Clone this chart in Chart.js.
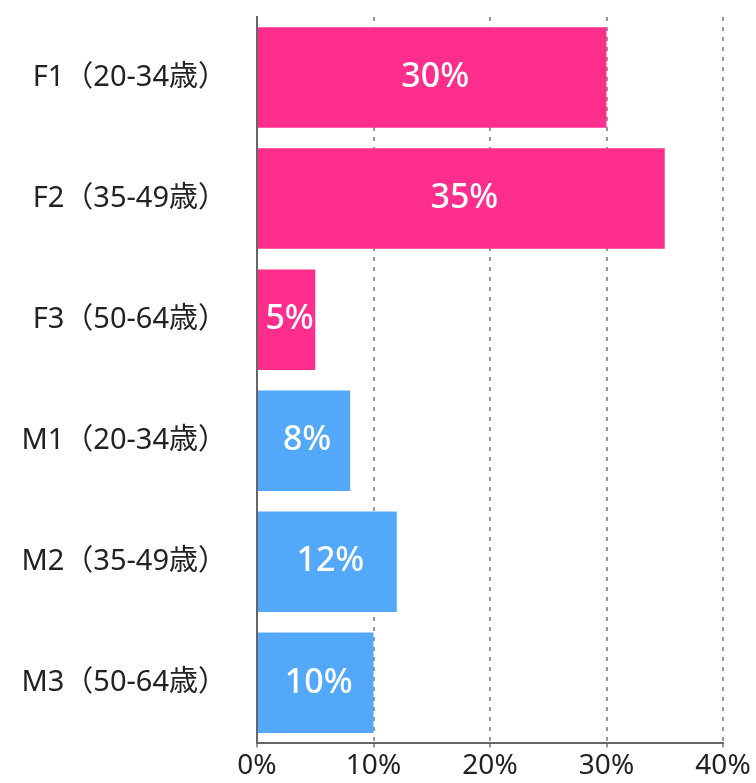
<!DOCTYPE html>
<html>
<head>
<meta charset="utf-8">
<script src="https://cdn.jsdelivr.net/npm/chart.js@4"></script>
<style>
  html, body { margin: 0; padding: 0; background: #fff; }
  #wrap { width: 756px; height: 783px; }
</style>
</head>
<body>
<div id="wrap"><canvas id="c" width="756" height="783"></canvas></div>
<script>
// 年齢層ごとの割合
const categories = ['F1（20-34歳）', 'F2（35-49歳）', 'F3（50-64歳）', 'M1（20-34歳）', 'M2（35-49歳）', 'M3（50-64歳）'];
const shares = [30, 35, 5, 8, 12, 10];
const tickValues = [0, 10, 20, 30, 40];

const PINK = '#ff2d8c';
const BLUE = '#53a8fa';
const barColors = categories.map(c => c.startsWith('F') ? PINK : BLUE);

const FONT = '"Noto Sans", "Noto Sans CJK JP", sans-serif';

// ラベルをバーの中央に描く
const barLabels = {
  id: 'barLabels',
  afterDatasetsDraw(chart) {
    const ctx = chart.ctx;
    const meta = chart.getDatasetMeta(0);
    ctx.save();
    ctx.fillStyle = '#fff';
    ctx.font = '500 34px ' + FONT;
    ctx.textAlign = 'center';
    ctx.textBaseline = 'middle';
    meta.data.forEach((bar, i) => {
      const x = (bar.x + bar.base) / 2 + 3;
      ctx.fillText(shares[i] + '%', x, bar.y);
    });
    ctx.restore();
  }
};

new Chart(document.getElementById('c'), {
  type: 'bar',
  data: {
    labels: categories,
    datasets: [{
      data: shares,
      backgroundColor: barColors,
      borderWidth: 0,
      barPercentage: 0.83,
      categoryPercentage: 1
    }]
  },
  options: {
    indexAxis: 'y',
    responsive: false,
    animation: false,
    layout: { padding: { top: 17, right: 33, left: 0, bottom: -2 } },
    plugins: {
      legend: { display: false },
      tooltip: { enabled: false }
    },
    scales: {
      x: {
        min: 0,
        max: 40,
        afterBuildTicks(axis) {
          axis.ticks = tickValues.map(v => ({ value: v }));
        },
        grid: {
          color: '#999',
          lineWidth: 2,
          drawTicks: true,
          tickLength: 4,
          tickColor: '#999'
        },
        border: { display: true, color: '#666', width: 2, dash: [4, 6] },
        ticks: {
          color: '#222',
          font: { family: FONT, size: 28 },
          padding: 2,
          maxRotation: 0,
          callback: v => v + '%'
        }
      },
      y: {
        grid: { display: false, drawTicks: false },
        border: { display: true, color: '#666', width: 2 },
        ticks: {
          color: '#222',
          font: { family: FONT, size: 29 },
          padding: 30
        },
        afterFit(scale) {
          // ticks.padding が上下の余白に加算されるのを打ち消す
          scale.width = 257;
          scale.paddingTop = 0;
          scale.paddingBottom = 0;
        }
      }
    }
  },
  plugins: [barLabels]
});
</script>
</body>
</html>
